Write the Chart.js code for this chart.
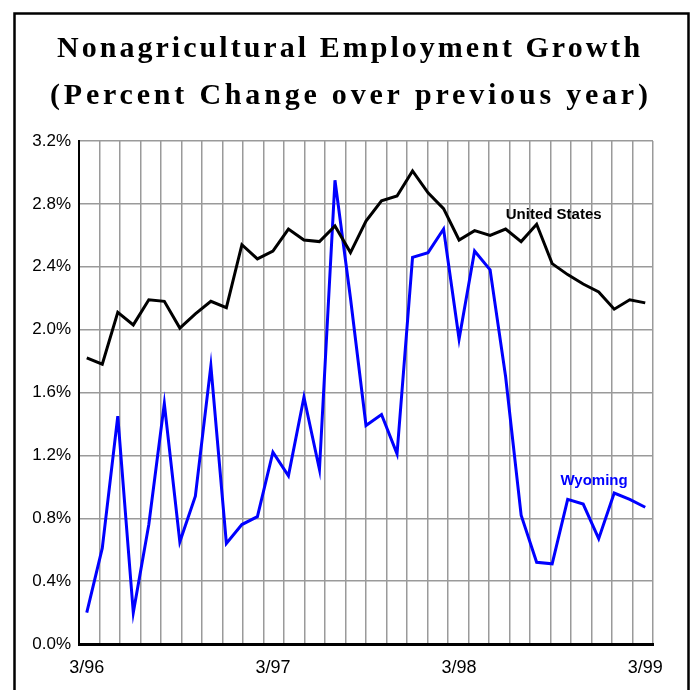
<!DOCTYPE html>
<html>
<head>
<meta charset="utf-8">
<title>Nonagricultural Employment Growth</title>
<script src="https://cdn.jsdelivr.net/npm/chart.js@4.4.1/dist/chart.umd.min.js"></script>
<style>
  html, body { margin: 0; padding: 0; background: #fff; }
  canvas { display: block; }
</style>
</head>
<body>
<canvas id="growth" width="694" height="690"></canvas>
<script>
// months, 3/96 .. 3/99
var months = ["3/96", "4/96", "5/96", "6/96", "7/96", "8/96", "9/96", "10/96", "11/96", "12/96", "1/97", "2/97",
              "3/97", "4/97", "5/97", "6/97", "7/97", "8/97", "9/97", "10/97", "11/97", "12/97", "1/98", "2/98",
              "3/98", "4/98", "5/98", "6/98", "7/98", "8/98", "9/98", "10/98", "11/98", "12/98", "1/99", "2/99",
              "3/99"];

// percent change over previous year
var unitedStates = [1.82, 1.78, 2.11, 2.03, 2.19, 2.18, 2.01, 2.10, 2.18, 2.14, 2.54, 2.45,
                    2.50, 2.64, 2.57, 2.56, 2.66, 2.49, 2.69, 2.82, 2.85, 3.01, 2.87, 2.77,
                    2.57, 2.63, 2.60, 2.64, 2.56, 2.67, 2.42, 2.35, 2.29, 2.24, 2.13, 2.19,
                    2.17];
var wyoming = [0.20, 0.61, 1.45, 0.20, 0.76, 1.53, 0.65, 0.94, 1.77, 0.64, 0.76, 0.81,
               1.22, 1.07, 1.57, 1.11, 2.95, 2.20, 1.39, 1.46, 1.21, 2.46, 2.49, 2.64,
               1.94, 2.50, 2.38, 1.70, 0.82, 0.52, 0.51, 0.92, 0.89, 0.67, 0.96, 0.92,
               0.87];

var yTicks = [0, 0.4, 0.8, 1.2, 1.6, 2.0, 2.4, 2.8, 3.2];
var titleLines = ["Nonagricultural Employment Growth", "(Percent Change over previous year)"];

var sans = "'Liberation Sans', Arial, sans-serif";

// frame round the whole picture
var framePlugin = {
    id: "frame",
    beforeDraw: function (chart) {
        var ctx = chart.ctx;
        ctx.save();
        ctx.fillStyle = "#fff";
        ctx.fillRect(0, 0, chart.width, chart.height);
        ctx.strokeStyle = "#000";
        ctx.lineWidth = 2.5;
        ctx.beginPath();
        ctx.moveTo(14.5, chart.height + 5);
        ctx.lineTo(14.5, 13.5);
        ctx.lineTo(688.5, 13.5);
        ctx.lineTo(688.5, chart.height + 5);
        ctx.stroke();
        ctx.restore();
    }
};

// spaced-out two line heading
var headingPlugin = {
    id: "heading",
    afterDraw: function (chart) {
        var ctx = chart.ctx;
        var rows = [{ x: 57, y: 57, w: 583 }, { x: 50, y: 104, w: 598 }];
        ctx.save();
        ctx.fillStyle = "#000";
        ctx.font = "bold 30px 'Liberation Serif', 'Times New Roman', serif";
        ctx.textBaseline = "alphabetic";
        ctx.textAlign = "left";
        titleLines.forEach(function (t, i) {
            ctx.letterSpacing = "0px";
            var w = ctx.measureText(t).width;
            var sp = (rows[i].w - w) / (t.length - 1);
            ctx.letterSpacing = sp.toFixed(2) + "px";
            ctx.fillText(t, rows[i].x, rows[i].y);
        });
        ctx.restore();
    }
};

// series names written beside the lines
var seriesLabelPlugin = {
    id: "seriesLabels",
    afterDatasetsDraw: function (chart, args, opts) {
        var ctx = chart.ctx;
        var xs = chart.scales.x, ys = chart.scales.y;
        ctx.save();
        ctx.textAlign = "center";
        ctx.textBaseline = "middle";
        opts.items.forEach(function (it) {
            ctx.font = "bold 15px " + sans;
            ctx.fillStyle = it.color;
            ctx.fillText(it.text, xs.getPixelForValue(it.at), ys.getPixelForValue(it.value));
        });
        ctx.restore();
    }
};

var ctx = document.getElementById("growth").getContext("2d");
var myChart = new Chart(ctx, {
    type: "line",
    data: {
        labels: months,
        datasets: [{
                label: "United States",
                data: unitedStates,
                xAxisID: "x",
                borderColor: "#000000",
                borderWidth: 3,
                pointRadius: 0,
                tension: 0
            },
            {
                label: "Wyoming",
                data: wyoming,
                xAxisID: "x",
                borderColor: "#0000ff",
                borderWidth: 3,
                pointRadius: 0,
                tension: 0
            }
        ]
    },
    options: {
        responsive: false,
        animation: false,
        events: [],
        layout: { padding: { top: 141, right: 41, left: 0, bottom: 0 } },
        plugins: {
            legend: { display: false },
            tooltip: { enabled: false },
            seriesLabels: {
                items: [
                    { text: "United States", at: 30.1, value: 2.73, color: "#000" },
                    { text: "Wyoming", at: 32.7, value: 1.04, color: "#0000ff" }
                ]
            }
        },
        scales: {
            x: {
                offset: true,
                grid: { display: false },
                border: { color: "#000", width: 3 },
                ticks: {
                    autoSkip: false,
                    maxRotation: 0,
                    color: "#000",
                    padding: 5,
                    font: { family: sans, size: 18 },
                    callback: function (v, i) { return i % 12 === 0 ? months[i] : ""; }
                },
                afterFit: function (s) { s.height = 46; }
            },
            xg: {
                type: "linear",
                position: "top",
                min: 0,
                max: 28,
                ticks: { display: false, stepSize: 1 },
                grid: { color: "#9a9a9a", lineWidth: 1.5, drawTicks: false },
                border: { display: false },
                afterFit: function (s) { s.height = 0; }
            },
            y: {
                min: 0,
                max: 3.2,
                afterBuildTicks: function (s) {
                    s.ticks = yTicks.map(function (v) { return { value: v }; });
                },
                grid: { color: "#9a9a9a", lineWidth: 1.5, drawTicks: false },
                border: { color: "#000", width: 2 },
                ticks: {
                    color: "#000",
                    padding: 8,
                    font: { family: sans, size: 17 },
                    callback: function (v) { return v.toFixed(1) + "%"; }
                },
                afterFit: function (s) { s.width = 79; }
            }
        }
    },
    plugins: [framePlugin, headingPlugin, seriesLabelPlugin]
});
</script>
</body>
</html>
